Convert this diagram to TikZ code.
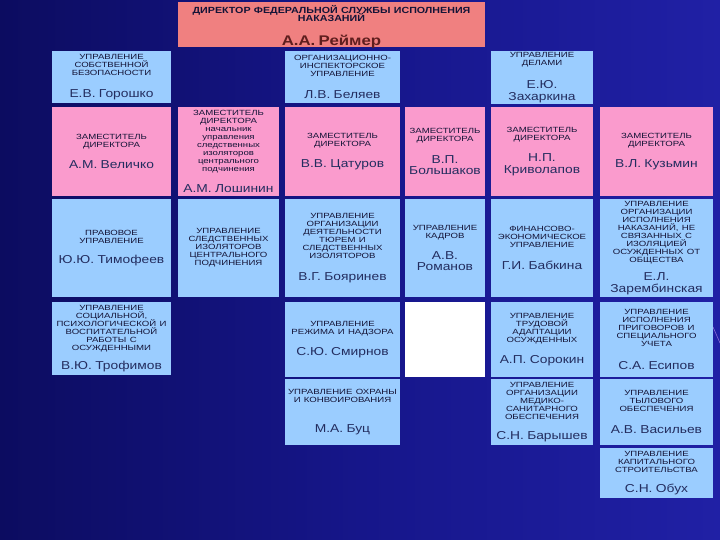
\documentclass[tikz,border=0pt]{standalone}
\usepackage{fontspec}
\setmainfont{Liberation Sans}
\newfontfamily\stretchfont[FakeStretch=1.2]{Liberation Sans}
\newfontfamily\widefont[FakeStretch=1.28]{Liberation Sans}
\definecolor{bgdark}{RGB}{12,12,96}
\definecolor{bgmid}{RGB}{22,22,138}
\definecolor{bglight}{RGB}{32,32,165}
\definecolor{pinkbox}{RGB}{250,155,205}
\definecolor{bluebox}{RGB}{155,205,255}
\definecolor{salmon}{RGB}{240,128,128}
\definecolor{hdcol}{RGB}{20,20,55}
\definecolor{nmcol}{RGB}{35,45,95}
\definecolor{topname}{RGB}{95,30,30}
\definecolor{streak}{RGB}{140,110,215}
\newcommand\hd{\widefont\fontsize{7.5}{8}\selectfont\lineskiplimit=-20pt\relax\color{hdcol}}
\newcommand\nm{\stretchfont\fontsize{11.5}{11.5}\selectfont\lineskiplimit=-20pt\relax\color{nmcol}}
\newcommand\tophd{\stretchfont\bfseries\fontsize{8.9}{8}\selectfont\lineskiplimit=-20pt\relax\color{hdcol}}
\newcommand\topnm{\stretchfont\bfseries\fontsize{14}{14}\selectfont\lineskiplimit=-20pt\relax\color{topname}}
\newcommand\obox[7][]{%
  \node[orgbox,#1,minimum width=#5pt,minimum height=#6pt,text width=#5pt] (#2) at (#3,#4) {#7};}
\begin{document}
\begin{tikzpicture}[x=1pt,y=-1pt,
  orgbox/.style={anchor=north west,inner sep=0pt,outer sep=0pt,align=center},
  pinkfill/.style={fill=pinkbox},
  bluefill/.style={fill=bluebox},
  topfill/.style={fill=salmon},
  whitefill/.style={fill=white}]
\useasboundingbox (0,0) rectangle (720,540);
\shade[left color=bgdark,right color=bglight,middle color=bgmid] (0,0) rectangle (720,540);
\draw[streak,line width=0.6pt] (713,327) -- (720,343);
% top
\obox[topfill]{dir}{178}{2}{307}{45}{\tophd\rule{0pt}{10pt}ДИРЕКТОР ФЕДЕРАЛЬНОЙ СЛУЖБЫ ИСПОЛНЕНИЯ\\НАКАЗАНИЙ\par\vspace{10pt}\topnm А.А. Реймер\par\vspace{-3pt}}
% row 1
\obox[bluefill]{usb}{52}{51}{119}{52}{\hd УПРАВЛЕНИЕ\\СОБСТВЕННОЙ\\БЕЗОПАСНОСТИ\par\vspace{10pt}\nm Е.В. Горошко\par}
\obox[bluefill]{oiu}{285}{51}{115}{52}{\hd ОРГАНИЗАЦИОННО-\\ИНСПЕКТОРСКОЕ\\УПРАВЛЕНИЕ\par\vspace{10pt}\nm Л.В. Беляев\par}
\obox[bluefill]{ud}{491}{51}{102}{53}{\hd УПРАВЛЕНИЕ\\ДЕЛАМИ\par\vspace{12pt}\nm Е.Ю.\\Захаркина\par}
% row 2
\obox[pinkfill]{z1}{52}{107}{119}{89}{\hd ЗАМЕСТИТЕЛЬ\\ДИРЕКТОРА\par\vspace{9pt}\nm А.М. Величко\par}
\obox[pinkfill]{z2}{178}{107}{101}{89}{\hd ЗАМЕСТИТЕЛЬ\\ДИРЕКТОРА\\начальник\\управления\\следственных\\изоляторов\\центрального\\подчинения\par\vspace{10pt}\nm А.М. Лошинин\par}
\obox[pinkfill]{z3}{285}{107}{115}{89}{\hd ЗАМЕСТИТЕЛЬ\\ДИРЕКТОРА\par\vspace{9pt}\nm В.В. Цатуров\par}
\obox[pinkfill]{z4}{405}{107}{80}{89}{\hd ЗАМЕСТИТЕЛЬ\\ДИРЕКТОРА\par\vspace{10pt}\nm В.П.\\Большаков\par}
\obox[pinkfill]{z5}{491}{107}{102}{89}{\hd ЗАМЕСТИТЕЛЬ\\ДИРЕКТОРА\par\vspace{10pt}\nm Н.П.\\Криволапов\par}
\obox[pinkfill]{z6}{600}{107}{113}{89}{\hd ЗАМЕСТИТЕЛЬ\\ДИРЕКТОРА\par\vspace{9pt}\nm В.Л. Кузьмин\par}
% row 3
\obox[bluefill]{pu}{52}{199}{119}{98}{\hd ПРАВОВОЕ\\УПРАВЛЕНИЕ\par\vspace{9pt}\nm Ю.Ю. Тимофеев\par}
\obox[bluefill]{usi}{178}{199}{101}{98}{\hd УПРАВЛЕНИЕ\\СЛЕДСТВЕННЫХ\\ИЗОЛЯТОРОВ\\ЦЕНТРАЛЬНОГО\\ПОДЧИНЕНИЯ\par}
\obox[bluefill]{uod}{285}{199}{115}{98}{\hd УПРАВЛЕНИЕ\\ОРГАНИЗАЦИИ\\ДЕЯТЕЛЬНОСТИ\\ТЮРЕМ И\\СЛЕДСТВЕННЫХ\\ИЗОЛЯТОРОВ\par\vspace{10pt}\nm В.Г. Бояринев\par}
\obox[bluefill]{uk}{405}{199}{80}{98}{\hd УПРАВЛЕНИЕ\\КАДРОВ\par\vspace{9pt}\nm А.В.\\Романов\par}
\obox[bluefill]{feu}{491}{199}{102}{98}{\hd ФИНАНСОВО-\\ЭКОНОМИЧЕСКОЕ\\УПРАВЛЕНИЕ\par\vspace{10pt}\nm Г.И. Бабкина\par}
\obox[bluefill]{uoin}{600}{199}{113}{98}{\hd УПРАВЛЕНИЕ\\ОРГАНИЗАЦИИ\\ИСПОЛНЕНИЯ\\НАКАЗАНИЙ, НЕ\\СВЯЗАННЫХ С\\ИЗОЛЯЦИЕЙ\\ОСУЖДЕННЫХ ОТ\\ОБЩЕСТВА\par\vspace{7pt}\nm Е.Л.\\Зарембинская\par}
% row 4
\obox[bluefill]{usp}{52}{302}{119}{73}{\hd УПРАВЛЕНИЕ\\СОЦИАЛЬНОЙ,\\ПСИХОЛОГИЧЕСКОЙ~И\\ВОСПИТАТЕЛЬНОЙ\\РАБОТЫ С\\ОСУЖДЕННЫМИ\par\vspace{8pt}\nm В.Ю. Трофимов\par}
\obox[bluefill]{urn}{285}{302}{115}{75}{\hd УПРАВЛЕНИЕ\\РЕЖИМА И НАДЗОРА\par\vspace{10pt}\nm С.Ю. Смирнов\par}
\obox[whitefill]{blank}{405}{302}{80}{75}{}
\obox[bluefill]{uta}{491}{302}{102}{75}{\hd УПРАВЛЕНИЕ\\ТРУДОВОЙ\\АДАПТАЦИИ\\ОСУЖДЕННЫХ\par\vspace{10pt}\nm А.П. Сорокин\par}
\obox[bluefill]{uip}{600}{302}{113}{75}{\hd УПРАВЛЕНИЕ\\ИСПОЛНЕНИЯ\\ПРИГОВОРОВ И\\СПЕЦИАЛЬНОГО\\УЧЕТА\par\vspace{12pt}\nm С.А. Есипов\par}
% row 5
\obox[bluefill]{uok}{285}{379}{115}{66}{\hd УПРАВЛЕНИЕ~ОХРАНЫ\\И КОНВОИРОВАНИЯ\par\vspace{19pt}\nm М.А. Буц\par}
\obox[bluefill]{umso}{491}{379}{102}{66}{\hd УПРАВЛЕНИЕ\\ОРГАНИЗАЦИИ\\МЕДИКО-\\САНИТАРНОГО\\ОБЕСПЕЧЕНИЯ\par\vspace{9pt}\nm С.Н. Барышев\par}
\obox[bluefill]{uto}{600}{379}{113}{66}{\hd УПРАВЛЕНИЕ\\ТЫЛОВОГО\\ОБЕСПЕЧЕНИЯ\par\vspace{10pt}\nm А.В. Васильев\par}
% row 6
\obox[bluefill]{uks}{600}{448}{113}{50}{\hd УПРАВЛЕНИЕ\\КАПИТАЛЬНОГО\\СТРОИТЕЛЬСТВА\par\vspace{9pt}\nm С.Н. Обух\par}
\end{tikzpicture}
\end{document}
